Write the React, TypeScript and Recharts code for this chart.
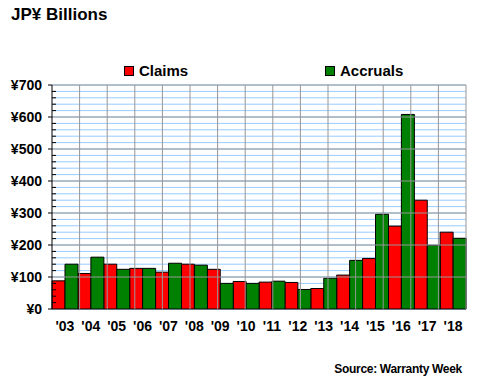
import React from "react";
import {
  BarChart,
  Bar,
  XAxis,
  YAxis,
  CartesianGrid,
  ReferenceLine,
  Legend,
} from "recharts";

const years = ["'03", "'04", "'05", "'06", "'07", "'08", "'09", "'10", "'11", "'12", "'13", "'14", "'15", "'16", "'17", "'18"];
const claims = [88, 111, 140, 127, 115, 140, 124, 86, 84, 83, 64, 106, 158, 259, 340, 240];
const accruals = [140, 162, 124, 127, 143, 137, 80, 80, 87, 61, 96, 152, 296, 608, 199, 221];

const yTicks = Array.from({ length: 36 }, (_, i) => i * 20);
const majorTicks = [100, 200, 300, 400, 500, 600, 700];
const boundaryTicks = Array.from({ length: 17 }, (_, i) => i);

const data = years.map((y, i) => ({ year: y, claims: claims[i], accruals: accruals[i] }));

const FONT = "'Liberation Sans', Arial, sans-serif";

const YTick = (props: any) => {
  const { x, y, payload } = props;
  const v = payload.value as number;
  const major = v % 100 === 0;
  return (
    <g>
      {major ? (
        <>
          <line x1={x - 4} x2={x} y1={y} y2={y} stroke="#000" />
          <text
            x={x - 10}
            y={y}
            dy="0.35em"
            textAnchor="end"
            fontFamily={FONT}
            fontWeight="bold"
            fontSize={14}
            fill="#000"
          >
            {"¥" + v}
          </text>
        </>
      ) : (
        <line x1={x} x2={x + 4} y1={y} y2={y} stroke="#000" />
      )}
    </g>
  );
};

const LegendContent = (props: any) => {
  const items = [
    { label: "Claims", color: "#FF0000" },
    { label: "Accruals", color: "#008000" },
  ];
  return (
    <div style={{ display: "flex", fontFamily: FONT, fontWeight: "bold", fontSize: 15 }}>
      {items.map((it) => (
        <div key={it.label} style={{ width: 201, display: "flex", alignItems: "center" }}>
          <span
            style={{
              display: "inline-block",
              width: 8,
              height: 8,
              background: it.color,
              border: "1px solid #000",
              marginRight: 5,
            }}
          />
          <span>{it.label}</span>
        </div>
      ))}
    </div>
  );
};

export default function App() {
  return (
    <div style={{ position: "absolute", left: 0, top: 0, width: 480, height: 380, background: "#fff" }}>
      <div
        style={{
          position: "absolute",
          left: 11,
          top: 5,
          fontFamily: FONT,
          fontWeight: "bold",
          fontSize: 17,
          color: "#000",
          whiteSpace: "nowrap",
        }}
      >
        JP¥ Billions
      </div>
      <BarChart
        width={480}
        height={380}
        data={data}
        margin={{ top: 85, right: 14, bottom: 41, left: 0 }}
        barCategoryGap={0}
        barGap={0}
      >
        <CartesianGrid stroke="#99CCFF" vertical={false} />
        {majorTicks.map((v) => (
          <ReferenceLine key={"h" + v} y={v} stroke="#969696" strokeWidth={1} ifOverflow="extendDomain" />
        ))}
        {boundaryTicks.slice(1).map((b) => (
          <ReferenceLine key={"v" + b} x={b} xAxisId="grid" stroke="#969696" strokeWidth={1} />
        ))}
        <XAxis
          xAxisId="grid"
          type="number"
          domain={[0, 16]}
          ticks={boundaryTicks}
          allowDataOverflow
          height={0}
          tickSize={4}
          tick={() => <g />}
          tickLine={{ stroke: "#000" }}
          axisLine={{ stroke: "#000" }}
          interval={0}
        />
        <XAxis
          dataKey="year"
          height={30}
          tickLine={false}
          axisLine={false}
          tickSize={0}
          tickMargin={12}
          interval={0}
          tick={{ fontFamily: FONT, fontWeight: "bold", fontSize: 14, fill: "#000" }}
        />
        <YAxis
          width={52}
          domain={[0, 700]}
          ticks={yTicks}
          interval={0}
          tickLine={false}
          tickSize={0}
          tickMargin={0}
          axisLine={{ stroke: "#000" }}
          tick={<YTick />}
        />
        <Legend
          layout="horizontal"
          verticalAlign="middle"
          align="center"
          content={<LegendContent />}
          wrapperStyle={{ top: 62, left: 124, width: 402 }}
        />
        <Bar dataKey="claims" name="Claims" fill="#FF0000" stroke="#000" strokeWidth={1} isAnimationActive={false} />
        <Bar dataKey="accruals" name="Accruals" fill="#008000" stroke="#000" strokeWidth={1} isAnimationActive={false} />
      </BarChart>
      <div
        style={{
          position: "absolute",
          right: 18,
          top: 362,
          fontFamily: FONT,
          fontWeight: "bold",
          fontSize: 12,
          color: "#000",
          whiteSpace: "nowrap",
          letterSpacing: -0.3,
        }}
      >
        Source: Warranty Week
      </div>
    </div>
  );
}
